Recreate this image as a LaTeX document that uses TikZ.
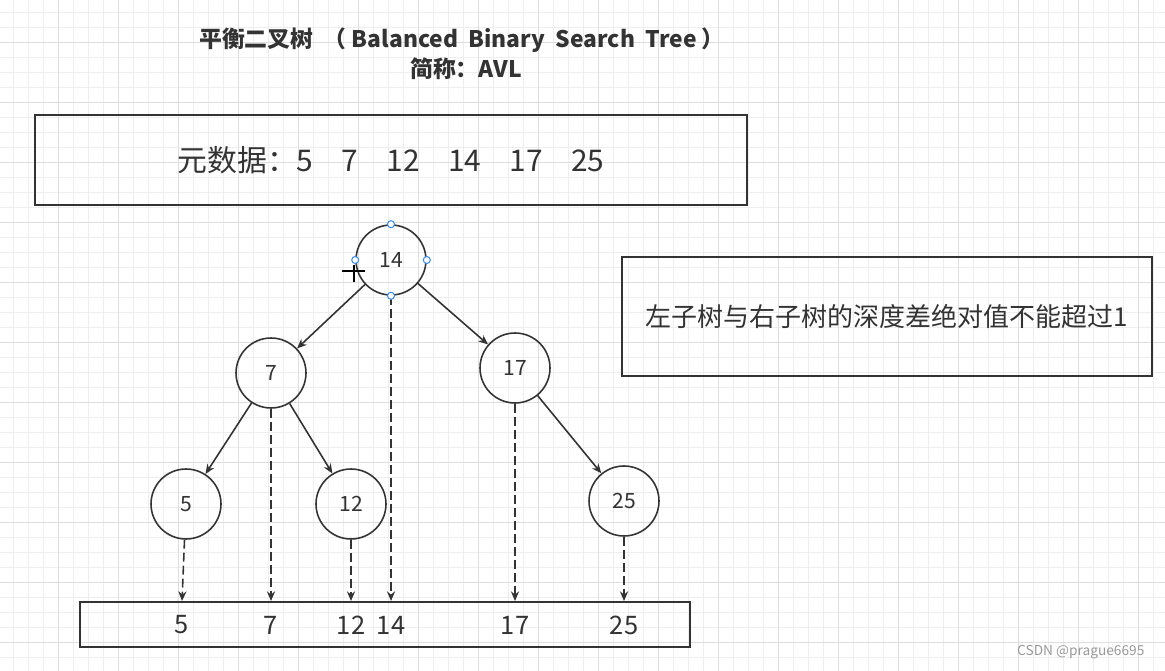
\documentclass[tikz,border=0pt]{standalone}
\usepackage{fontspec}
\setmainfont{Noto Sans CJK SC}
\usetikzlibrary{arrows.meta}
\definecolor{inkgray}{HTML}{333333}
\definecolor{gridminor}{HTML}{EEEEEE}
\definecolor{gridmajor}{HTML}{DEDEDE}
\definecolor{selblue}{HTML}{3D8EE8}
\definecolor{markgray}{HTML}{9A9A9A}

\begin{document}
\begin{tikzpicture}[x=0.02cm, y=-0.02cm, line width=0.9pt, inkgray,
  treenode/.style={draw, circle, line width=0.9pt, minimum size=1.4cm, inner sep=0pt, font=\fontsize{12}{13}\selectfont},
  box/.style={draw, rectangle, line width=1.1pt, inner sep=0pt},
  link/.style={-{Stealth[length=5.5pt, width=4.6pt]}},
  dlink/.style={link, dash pattern=on 5pt off 2.4pt},
  handle/.style={draw=selblue, fill=white, line width=0.6pt}]
  % background and grid
  \fill[white] (0,0) rectangle (1165,671);
  \useasboundingbox (0,0) rectangle (1165,671);
  \foreach \gx in {13,28,...,1165} \draw[gridminor, line width=0.4pt] (\gx,0) -- (\gx,671);
  \foreach \gy in {12,27,...,671} \draw[gridminor, line width=0.4pt] (0,\gy) -- (1165,\gy);
  \foreach \gx in {58,118,...,1165} \draw[gridmajor, line width=0.4pt] (\gx,0) -- (\gx,671);
  \foreach \gy in {42,102,...,671} \draw[gridmajor, line width=0.4pt] (0,\gy) -- (1165,\gy);

  % title
  \node[font=\fontsize{13}{14}\selectfont\bfseries] (title) at (462,40)
    {平衡二叉树\ \ （\ Balanced\ \ Binary\ \ Search\ \ Tree\ ）};
  \node[font=\fontsize{13}{14}\selectfont\bfseries] (abbr) at (466,69) {简称：AVL};

  % source data
  \node[box, minimum width=14.24cm, minimum height=1.8cm, font=\fontsize{17}{18}\selectfont] (data) at (391,160)
    {元数据：5\hspace{0.95em}7\hspace{0.95em}12\hspace{0.95em}14\hspace{0.95em}17\hspace{0.95em}25};

  % rule
  \node[box, minimum width=10.6cm, minimum height=2.38cm, font=\fontsize{14.8}{16}\selectfont] (rule) at (887,316.5)
    {左子树与右子树的深度差绝对值不能超过1};

  % tree
  \node[treenode] (n14) at (391,260) {14};
  \node[treenode] (n7) at (271,373) {7};
  \node[treenode] (n17) at (515,368) {17};
  \node[treenode] (n5) at (186,504) {5};
  \node[treenode] (n12) at (351,504) {12};
  \node[treenode] (n25) at (624,501) {25};

  \draw[link] (n14) -- (n7);
  \draw[link] (n14) -- (n17);
  \draw[link] (n7) -- (n5);
  \draw[link] (n7) -- (n12);
  \draw[link] (n17) -- (n25);

  % sorted row
  \node[box, minimum width=12.2cm, minimum height=0.9cm] (row) at (385,624.5) {};
  \foreach \v/\px in {5/182, 7/271, 12/351, 14/391, 17/515, 25/624}
    \node[font=\fontsize{14.5}{16}\selectfont] (b\v) at (\px,625) {\v};

  \foreach \v in {5,7,12,14,17,25}
    \draw[dlink] (n\v) -- (b\v |- row.north);

  % selection on 14
  \foreach \h in {north,west,east,south}
    \draw[handle] (n14.\h) circle[radius=0.07cm];
  \draw[black, line width=1.2pt] (342,271) -- (365,271);
  \draw[black, line width=1.2pt] (354,265) -- (354,282);

  % watermark
  \node[markgray, font=\fontsize{7.8}{9}\selectfont, anchor=east] (mark) at (1151,652) {CSDN @prague6695};
\end{tikzpicture}
\end{document}
